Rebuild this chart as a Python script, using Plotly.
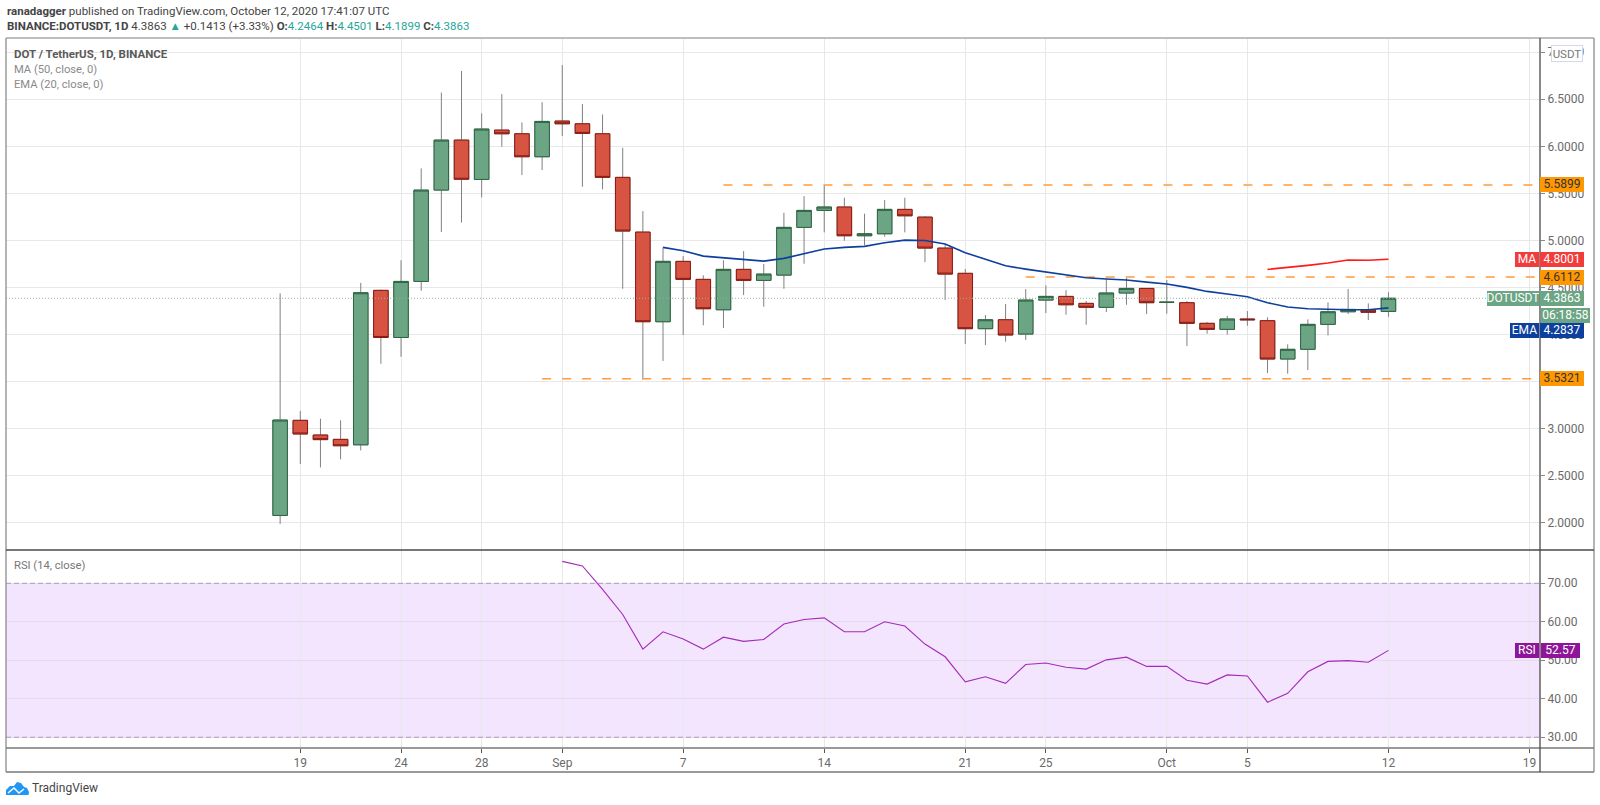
import pandas as pd
import plotly.graph_objects as go

W, H = 1600, 805

dates = pd.date_range('2020-08-18', '2020-10-12').strftime('%Y-%m-%d').tolist()
opens = [2.08, 3.09, 2.934, 2.888, 2.83, 4.47, 3.97, 4.565, 5.535, 6.066, 5.648, 6.172, 6.133, 5.889,
         6.268, 6.239, 6.133, 5.67, 5.089, 4.137, 4.778, 4.587, 4.264, 4.693, 4.576, 4.632, 5.139, 5.319,
         5.355, 5.05, 5.071, 5.33, 5.248, 4.919, 4.651, 4.063, 4.158, 4.006, 4.367, 4.406, 4.332, 4.29,
         4.442, 4.491, 4.343, 4.339, 4.12, 4.056, 4.166, 4.148, 3.741, 3.844, 4.109, 4.243, 4.261, 4.2464]
highs = [4.438, 3.19, 3.107, 3.09, 4.55, 4.48, 4.79, 5.765, 6.57, 6.80, 6.35, 6.554, 6.254, 6.469,
         6.862, 6.448, 6.338, 5.984, 5.312, 4.927, 4.834, 4.63, 4.789, 4.887, 4.75, 5.294, 5.471, 5.588,
         5.454, 5.284, 5.429, 5.454, 5.259, 4.962, 4.696, 4.208, 4.325, 4.484, 4.523, 4.473, 4.357, 4.593,
         4.604, 4.491, 4.58, 4.357, 4.134, 4.20, 4.25, 4.184, 3.897, 4.162, 4.343, 4.484, 4.332, 4.4501]
lows = [1.99, 2.626, 2.59, 2.676, 2.77, 3.69, 3.765, 4.466, 5.09, 5.19, 5.457, 5.995, 5.694, 5.747,
        6.108, 5.57, 5.543, 4.487, 3.525, 3.72, 3.996, 4.099, 4.07, 4.42, 4.296, 4.487, 4.753, 5.086,
        4.997, 4.948, 5.04, 5.086, 4.77, 4.367, 3.90, 3.889, 3.925, 3.943, 4.229, 4.211, 4.105, 4.24,
        4.317, 4.219, 4.222, 3.879, 4.01, 4.0, 4.095, 3.592, 3.585, 3.624, 3.992, 4.219, 4.155, 4.1899]
closes = [3.093, 2.945, 2.885, 2.82, 4.445, 3.97, 4.565, 5.535, 6.066, 5.65, 6.183, 6.133, 5.889, 6.264,
          6.239, 6.137, 5.67, 5.10, 4.137, 4.778, 4.587, 4.275, 4.693, 4.576, 4.643, 5.139, 5.319, 5.355,
          5.05, 5.071, 5.33, 5.262, 4.919, 4.643, 4.063, 4.158, 3.996, 4.367, 4.406, 4.317, 4.29, 4.442,
          4.491, 4.339, 4.344, 4.12, 4.056, 4.166, 4.158, 3.741, 3.844, 4.109, 4.243, 4.268, 4.237, 4.3863]

ema_dates = pd.date_range('2020-09-06', '2020-10-12').strftime('%Y-%m-%d').tolist()
ema = [4.927, 4.891, 4.834, 4.816, 4.80, 4.781, 4.81, 4.863, 4.909, 4.927, 4.937, 4.976, 5.004, 5.0,
       4.962, 4.87, 4.80, 4.731, 4.696, 4.668, 4.636, 4.604, 4.59, 4.58, 4.558, 4.537, 4.502, 4.459,
       4.431, 4.402, 4.339, 4.293, 4.275, 4.268, 4.264, 4.264, 4.2837]

ma_dates = pd.date_range('2020-10-06', '2020-10-12').strftime('%Y-%m-%d').tolist()
ma = [4.693, 4.71, 4.735, 4.76, 4.792, 4.79, 4.8001]

rsi_dates = pd.date_range('2020-09-01', '2020-10-12').strftime('%Y-%m-%d').tolist()
rsi = [75.7, 74.5, 68.4, 61.9, 52.9, 57.4, 55.5, 52.9, 56.0, 54.9, 55.4, 59.4, 60.6, 61.0, 57.4, 57.4,
       60.0, 58.9, 54.2, 50.9, 44.4, 45.7, 44.0, 48.9, 49.3, 48.2, 47.7, 50.1, 50.8, 48.4, 48.4, 44.8,
       43.8, 46.2, 45.9, 39.1, 41.4, 47.0, 49.7, 49.9, 49.5, 52.57]

levels = [5.5899, 4.6112, 3.5321]
level_starts = ['2020-09-09', '2020-09-24', '2020-08-31']
last_price = 4.3863
rsi_band = [30, 70]

x_range = ['2020-08-04 09:30', '2020-10-19 12:30']
x_ticks = ['2020-08-19', '2020-08-24', '2020-08-28', '2020-09-01', '2020-09-07', '2020-09-14',
           '2020-09-21', '2020-09-25', '2020-10-01', '2020-10-05', '2020-10-12', '2020-10-19']
x_labels = ['19', '24', '28', 'Sep', '7', '14', '21', '25', 'Oct', '5', '12', '19']
price_ticks = [2.0, 2.5, 3.0, 3.5, 4.0, 4.5, 5.0, 5.5, 6.0, 6.5, 7.0]
rsi_ticks = [30, 40, 50, 60, 70]

FONT = 'Roboto'
GRID = '#e8e8ea'
GREEN, RED = '#6ba583', '#d75442'
ORANGE, MA_RED, EMA_BLUE, PURPLE = '#ff9800', '#f23b3b', '#0d3f9f', '#8e1599'


def px(x):
    return x / W


def py(y):
    return 1 - y / H


fig = go.Figure()

# wicks first in grey, then the bodies again with their dark borders
fig.add_candlestick(x=dates, open=opens, high=highs, low=lows, close=closes, whiskerwidth=0,
                    increasing=dict(line=dict(color='#808083', width=1), fillcolor=GREEN),
                    decreasing=dict(line=dict(color='#808083', width=1), fillcolor=RED))
fig.add_candlestick(x=dates, open=opens, close=closes,
                    high=[max(o, c) for o, c in zip(opens, closes)],
                    low=[min(o, c) for o, c in zip(opens, closes)], whiskerwidth=0,
                    increasing=dict(line=dict(color='#2b6642', width=1), fillcolor=GREEN),
                    decreasing=dict(line=dict(color='#8a1a10', width=1), fillcolor=RED))

for lvl, start in zip(levels, level_starts):
    fig.add_scatter(x=[start, x_range[1]], y=[lvl, lvl], mode='lines',
                    line=dict(color='#ff9a3d', width=1.5, dash='9px,11px'))

fig.add_scatter(x=ema_dates, y=ema, mode='lines', line=dict(color=EMA_BLUE, width=1.6))
fig.add_scatter(x=ma_dates, y=ma, mode='lines', line=dict(color='#ff1a1a', width=1.6))
fig.add_scatter(x=rsi_dates, y=rsi, mode='lines', xaxis='x2', yaxis='y2',
                line=dict(color='#a42bb8', width=1.1))

# rsi band and last price line
fig.add_shape(type='rect', xref='x2 domain', yref='y2', x0=0, x1=1, y0=rsi_band[0], y1=rsi_band[1],
              fillcolor='#f3e5fd', line_width=0, layer='below')
for v in rsi_band:
    fig.add_shape(type='line', xref='x2 domain', yref='y2', x0=0, x1=1, y0=v, y1=v,
                  line=dict(color='#ab9fb3', width=1, dash='5px,3px'))
fig.add_shape(type='line', xref='x domain', yref='y', x0=0, x1=1, y0=last_price, y1=last_price,
              line=dict(color='#8fb3a0', width=1, dash='1px,2px'))

# frame
for x0, y0, x1, y1, col in [(6, 38, 1594, 38, '#a8a8a8'), (6, 38, 6, 772, '#8c8c8c'),
                            (1594, 38, 1594, 772, '#8c8c8c'), (6, 772, 1594, 772, '#777777'),
                            (6, 550, 1594, 550, '#4a4a4a'),
                            (6, 748, 1594, 748, '#777777'), (1540, 38, 1540, 772, '#4a4a4a')]:
    fig.add_shape(type='line', xref='paper', yref='paper', x0=px(x0), x1=px(x1), y0=py(y0), y1=py(y1),
                  line=dict(color=col, width=1.3))

# logo
fig.add_shape(type='path', xref='paper', yref='paper', line_width=0, fillcolor='#2196f3',
              path='M {} {} '.format(px(6), py(795)) + ' '.join(
                  'L {} {}'.format(px(a), py(b)) for a, b in
                  [(6, 790), (10, 786), (14, 786), (17, 782), (21, 783), (24, 787), (27, 788),
                   (29, 792), (28.5, 795)]) + ' Z')
fig.add_shape(type='path', xref='paper', yref='paper', line=dict(color='white', width=1.4),
              path='M {} {} '.format(px(8), py(793)) + ' '.join(
                  'L {} {}'.format(px(a), py(b)) for a, b in [(14, 788), (19, 793), (24, 789)]))


def text(x, y, s, size=12, color='#555555', anchor='left'):
    fig.add_annotation(xref='paper', yref='paper', x=px(x), y=py(y), text=s, showarrow=False,
                       xanchor=anchor, yanchor='middle', font=dict(family=FONT, size=size, color=color))


def tag(x0, x1, val, s, bg, color='white', yref='y'):
    fig.add_annotation(xref='paper', yref=yref, x=px(x0), y=val, text=s, showarrow=False, xanchor='left',
                       yanchor='middle', width=x1 - x0, height=14.5, bgcolor=bg, borderpad=0, borderwidth=0,
                       font=dict(family=FONT, size=12, color=color))


TEAL = '#26a69a'
text(4.5, 11, '<b>ranadagger</b> published on TradingView.com, October 12, 2020 17:41:07 UTC', 11.5, '#444444')
text(4.5, 26, '<b>BINANCE:DOTUSDT, 1D</b> 4.3863 <span style="color:{0}">▲</span> +0.1413 (+3.33%) '
     '<b>O:</b><span style="color:{0}">4.2464</span> <b>H:</b><span style="color:{0}">4.4501</span> '
     '<b>L:</b><span style="color:{0}">4.1899</span> <b>C:</b><span style="color:{0}">4.3863</span>'.format(TEAL),
     11.5, '#444444')
text(12, 54, '<b>DOT / TetherUS, 1D, BINANCE</b>', 11.5, '#5a5a5a')
text(12, 69, 'MA (50, close, 0)', 11.2, '#8a8a8a')
text(12, 84.5, 'EMA (20, close, 0)', 11.2, '#8a8a8a')
text(12, 565.5, 'RSI (14, close)', 11.2, '#777777')
text(29.5, 788, 'TradingView', 12, '#444444')

for lvl in levels:
    tag(1540, 1584, lvl, '{:.4f}'.format(lvl), ORANGE, '#333333')
tag(1515, 1539, ma[-1], 'MA', MA_RED)
tag(1540, 1584, ma[-1], '{:.4f}'.format(ma[-1]), MA_RED)
tag(1487, 1539, last_price, 'DOTUSDT', GREEN)
tag(1540, 1584, last_price, '{:.4f}'.format(last_price), GREEN)
tag(1541, 1590, py(315.3), '06:18:58', GREEN, yref='paper')
# TradingView pushes the EMA tag down so it clears the countdown
tag(1510, 1539, py(330.3), 'EMA', EMA_BLUE, yref='paper')
tag(1540, 1584, py(330.3), '{:.4f}'.format(ema[-1]), EMA_BLUE, yref='paper')
tag(1515, 1539, rsi[-1], 'RSI', PURPLE, yref='y2')
tag(1541, 1580, rsi[-1], '{:.2f}'.format(rsi[-1]), PURPLE, yref='y2')
fig.add_annotation(xref='paper', yref='paper', x=px(1567), y=py(53.5), text='USDT', showarrow=False,
                   xanchor='center', yanchor='middle',
                   width=30, height=15, bgcolor='white', bordercolor='#d5d9e6', borderwidth=1, borderpad=0,
                   font=dict(family=FONT, size=11.5, color='#777777'))

axis_font = dict(family=FONT, size=12, color='#6a6a6a')
fig.update_layout(
    width=W, height=H, margin=dict(l=0, r=0, t=0, b=0), paper_bgcolor='white', plot_bgcolor='white',
    showlegend=False, boxgap=0.28, boxgroupgap=0, hovermode=False,
    xaxis=dict(domain=[px(6), px(1540)], range=x_range, type='date', rangeslider_visible=False, anchor='y',
               tickmode='array', tickvals=x_ticks, ticktext=x_labels, showticklabels=False, ticks='',
               gridcolor=GRID, gridwidth=1, zeroline=False),
    xaxis2=dict(domain=[px(6), px(1540)], range=x_range, type='date', anchor='y2', matches='x',
                tickmode='array', tickvals=x_ticks, ticktext=x_labels, ticks='outside', ticklen=4,
                tickcolor='#555555', tickfont=axis_font, gridcolor=GRID, gridwidth=1, zeroline=False),
    yaxis=dict(domain=[py(550), py(38)], range=[1.713, 7.15], side='right', anchor='x', tickmode='array',
               tickvals=price_ticks, tickformat='.4f', ticks='outside', ticklen=4, tickcolor='#888888',
               tickfont=axis_font, gridcolor=GRID, gridwidth=1, zeroline=False),
    yaxis2=dict(domain=[py(748), py(550)], range=[27.2, 78.65], side='right', anchor='x2', tickmode='array',
                tickvals=rsi_ticks, tickformat='.2f', ticks='outside', ticklen=4, tickcolor='#888888',
                tickfont=axis_font, gridcolor='#e6daf0', gridwidth=1, zeroline=False),
)

fig.write_html("out.html", config={'displayModeBar': False},
               post_script="document.body.style.margin='0'")
